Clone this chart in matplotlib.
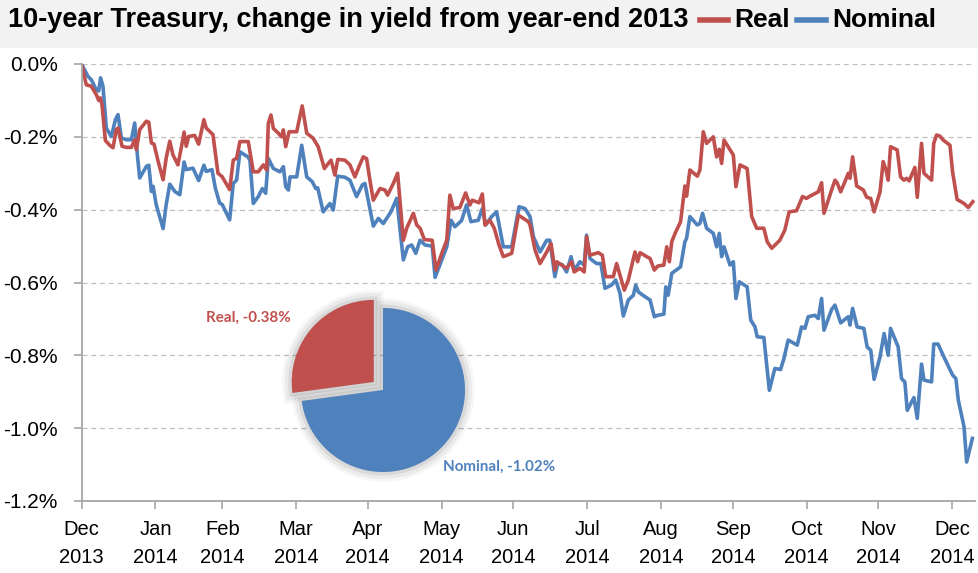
import matplotlib
matplotlib.use('Agg')
import matplotlib.pyplot as plt
import matplotlib.patheffects as pe
from matplotlib.patches import Rectangle
from matplotlib.lines import Line2D

# x = days since year-end 2013, y = change in 10-year yield (percentage points)
real_days = [0, 2.0, 4.1, 6.2, 7.2, 7.9, 8.6, 10.0, 11.8, 13.2, 14.6, 15.3, 17.0, 18.8, 20.9,
             22.3, 23.0, 24.4, 27.2, 28.2, 29.3, 30.4, 32.1, 34.2, 35.5, 37.0, 38.3, 40.4, 41.8,
             43.0, 43.9, 44.9, 47.4, 49.1, 51.3, 52.3, 55.1, 57.2, 58.9, 62.1, 63.6, 65.0, 66.4,
             69.9, 72.0, 74.1, 76.2, 77.6, 78.3, 79.4, 80.4, 82.5, 83.9, 84.6, 85.6, 87.0, 90.2,
             92.5, 94.4, 97.1, 99.2, 101.8, 103.7, 104.6, 106.2, 107.4, 110.4, 112.5, 114.6,
             116.3, 118.1, 119.5, 120.9, 122.3, 125.1, 127.2, 128.3, 130.7, 132.5, 134.9, 136.3,
             139.1, 140.5, 141.9, 143.7, 147.0, 148.6, 151.0, 153.1, 154.4, 155.8, 158.6, 161.0,
             162.8, 163.8, 166.6, 168.0, 169.1, 171.2, 173.0, 175.0, 176.8, 180.3, 183.1, 187.3,
             188.0, 190.1, 192.2, 195.0, 196.8, 198.4, 199.2, 201.2, 203.3, 205.4, 206.5, 208.9,
             210.7, 211.7, 213.1, 216.6, 218.3, 219.7, 222.9, 224.3, 225.7, 227.5, 229.2, 232.0,
             233.1, 234.1, 236.9, 238.3, 240.1, 241.5, 244.1, 245.3, 246.4, 247.4, 248.8, 251.1,
             252.9, 253.6, 255.0, 258.1, 259.2, 260.6, 262.0, 264.8, 266.2, 267.3, 268.3, 269.3,
             273.2, 274.3, 276.0, 279.0, 280.9, 283.0, 286.0, 287.4, 289.3, 292.7, 294.8, 296.6,
             299.7, 302.2, 303.9, 305.3, 308.8, 310.2, 311.2, 313.0, 314.4, 315.8, 316.7, 318.2,
             320.0, 321.4, 322.1, 323.2, 324.9, 327.7, 329.1, 330.8, 332.2, 334.7, 336.0, 337.2,
             338.1, 339.1, 341.9, 343.3, 344.7, 345.8, 346.9, 349.3, 350.3, 352.1, 353.1, 356.3,
             357.2, 358.4, 359.8, 361.2, 364.0, 365.1, 367.0, 369.9, 371.7, 373.6]
real_chg = [0.0, -0.057, -0.061, -0.084, -0.100, -0.093, -0.112, -0.210, -0.223, -0.230, -0.180,
            -0.176, -0.226, -0.229, -0.229, -0.208, -0.235, -0.180, -0.157, -0.160, -0.217,
            -0.220, -0.267, -0.318, -0.258, -0.212, -0.249, -0.277, -0.231, -0.187, -0.226,
            -0.199, -0.196, -0.220, -0.153, -0.176, -0.194, -0.300, -0.309, -0.345, -0.264,
            -0.259, -0.213, -0.213, -0.296, -0.296, -0.277, -0.291, -0.163, -0.140, -0.177,
            -0.190, -0.200, -0.181, -0.227, -0.186, -0.186, -0.115, -0.190, -0.204, -0.227,
            -0.287, -0.271, -0.264, -0.305, -0.262, -0.264, -0.277, -0.310, -0.282, -0.255,
            -0.260, -0.319, -0.374, -0.342, -0.346, -0.360, -0.328, -0.300, -0.484, -0.451,
            -0.410, -0.442, -0.451, -0.482, -0.484, -0.566, -0.520, -0.484, -0.360, -0.397,
            -0.394, -0.354, -0.387, -0.374, -0.381, -0.357, -0.442, -0.429, -0.451, -0.497,
            -0.529, -0.520, -0.415, -0.433, -0.442, -0.511, -0.548, -0.516, -0.493, -0.566,
            -0.543, -0.552, -0.561, -0.543, -0.571, -0.561, -0.571, -0.474, -0.525, -0.518,
            -0.525, -0.584, -0.584, -0.548, -0.580, -0.621, -0.593, -0.516, -0.543, -0.518,
            -0.529, -0.534, -0.566, -0.555, -0.552, -0.502, -0.543, -0.488, -0.465, -0.433,
            -0.335, -0.363, -0.291, -0.308, -0.291, -0.186, -0.218, -0.200, -0.255, -0.234,
            -0.273, -0.209, -0.250, -0.337, -0.277, -0.287, -0.419, -0.451, -0.451, -0.488,
            -0.506, -0.484, -0.456, -0.406, -0.403, -0.364, -0.369, -0.363, -0.351, -0.326,
            -0.410, -0.374, -0.346, -0.319, -0.326, -0.351, -0.323, -0.300, -0.314, -0.255,
            -0.335, -0.346, -0.366, -0.369, -0.406, -0.351, -0.268, -0.291, -0.319, -0.227,
            -0.236, -0.310, -0.319, -0.314, -0.321, -0.284, -0.366, -0.218, -0.300, -0.319,
            -0.218, -0.195, -0.198, -0.209, -0.223, -0.296, -0.372, -0.383, -0.394, -0.378]

nominal_days = [0, 2.7, 4.1, 6.2, 7.2, 8.0, 9.0, 10.4, 12.5, 14.2, 15.3, 16.7, 18.8, 20.9, 22.3,
                23.4, 24.4, 27.2, 28.2, 29.3, 30.0, 31.3, 34.2, 35.5, 37.0, 39.1, 41.2, 43.0,
                43.9, 46.7, 49.1, 51.3, 52.3, 54.7, 56.1, 57.9, 59.0, 62.1, 63.6, 65.0, 66.4,
                69.7, 70.6, 72.0, 74.1, 75.8, 77.2, 78.3, 80.4, 83.2, 84.6, 85.6, 86.7, 87.4,
                90.2, 92.3, 94.4, 96.7, 98.2, 99.0, 101.3, 104.1, 105.5, 107.4, 110.4, 112.5,
                115.3, 117.7, 118.8, 122.3, 124.4, 126.5, 129.7, 132.1, 134.9, 136.7, 138.4,
                140.1, 141.9, 144.0, 147.0, 148.2, 151.0, 153.1, 154.9, 156.5, 159.3, 161.4,
                163.2, 166.3, 168.0, 169.4, 171.9, 174.0, 176.8, 180.3, 183.4, 185.9, 188.0,
                189.4, 192.2, 195.0, 196.3, 198.4, 199.6, 201.5, 203.3, 205.2, 206.5, 208.9,
                210.7, 211.7, 213.1, 215.9, 217.7, 219.4, 222.2, 223.9, 225.7, 227.1, 229.2,
                231.3, 232.3, 233.4, 236.2, 238.3, 240.1, 241.5, 244.1, 244.9, 245.9, 247.4,
                248.8, 251.1, 252.9, 253.6, 255.0, 258.1, 259.2, 260.3, 262.0, 264.8, 266.2,
                267.3, 268.3, 269.3, 271.8, 273.2, 274.3, 275.7, 279.0, 280.5, 282.3, 283.2,
                286.0, 288.3, 290.6, 293.0, 294.4, 296.2, 300.0, 301.8, 303.2, 304.6, 307.4,
                308.8, 310.2, 311.2, 313.0, 314.4, 315.8, 318.2, 320.4, 321.4, 322.1, 323.2,
                325.1, 327.9, 329.3, 330.8, 332.2, 334.7, 336.4, 338.1, 339.1, 342.3, 343.7,
                345.1, 346.1, 348.9, 350.3, 352.1, 353.1, 356.3, 357.2, 359.0, 361.8, 365.1,
                366.5, 367.5, 369.9, 371.0, 373.4]
nominal_chg = [0.0, -0.034, -0.043, -0.071, -0.074, -0.038, -0.061, -0.176, -0.199, -0.153,
               -0.139, -0.203, -0.208, -0.208, -0.162, -0.249, -0.313, -0.281, -0.278, -0.350,
               -0.336, -0.386, -0.452, -0.386, -0.330, -0.350, -0.359, -0.269, -0.290, -0.286,
               -0.320, -0.278, -0.295, -0.290, -0.341, -0.382, -0.386, -0.428, -0.328, -0.319,
               -0.241, -0.255, -0.264, -0.383, -0.364, -0.342, -0.355, -0.259, -0.287, -0.296,
               -0.282, -0.337, -0.346, -0.310, -0.310, -0.223, -0.310, -0.323, -0.342, -0.340,
               -0.406, -0.383, -0.401, -0.308, -0.311, -0.319, -0.364, -0.332, -0.328, -0.445,
               -0.424, -0.438, -0.406, -0.369, -0.538, -0.502, -0.497, -0.520, -0.484, -0.497,
               -0.500, -0.586, -0.538, -0.502, -0.429, -0.447, -0.430, -0.387, -0.433, -0.429,
               -0.397, -0.442, -0.419, -0.406, -0.502, -0.502, -0.392, -0.397, -0.419, -0.474,
               -0.516, -0.484, -0.484, -0.584, -0.548, -0.551, -0.571, -0.529, -0.566, -0.543,
               -0.552, -0.470, -0.534, -0.548, -0.548, -0.616, -0.607, -0.593, -0.630, -0.692,
               -0.648, -0.635, -0.607, -0.626, -0.639, -0.648, -0.694, -0.690, -0.687, -0.612,
               -0.635, -0.575, -0.568, -0.557, -0.488, -0.479, -0.419, -0.442, -0.438, -0.410,
               -0.451, -0.465, -0.502, -0.465, -0.529, -0.502, -0.552, -0.543, -0.644, -0.598,
               -0.612, -0.703, -0.722, -0.749, -0.751, -0.896, -0.836, -0.839, -0.809, -0.758,
               -0.772, -0.722, -0.726, -0.694, -0.690, -0.699, -0.644, -0.731, -0.699, -0.674,
               -0.662, -0.711, -0.699, -0.694, -0.717, -0.671, -0.722, -0.726, -0.777, -0.786,
               -0.866, -0.804, -0.740, -0.800, -0.726, -0.777, -0.864, -0.873, -0.951, -0.916,
               -0.973, -0.824, -0.868, -0.873, -0.769, -0.769, -0.809, -0.854, -0.864, -0.923,
               -0.996, -1.093, -1.028]

month_end_days = [0, 31, 59, 90, 120, 151, 181, 212, 243, 273, 304, 334, 365]
month_labels = ['Dec\n2013', 'Jan\n2014', 'Feb\n2014', 'Mar\n2014', 'Apr\n2014', 'May\n2014',
                'Jun\n2014', 'Jul\n2014', 'Aug\n2014', 'Sep\n2014', 'Oct\n2014', 'Nov\n2014',
                'Dec\n2014']
y_ticks = [0, -0.2, -0.4, -0.6, -0.8, -1.0, -1.2]

pie_names = ['Real', 'Nominal']
pie_values = [0.38, 1.02]

RED = '#c0504d'
BLUE = '#4f81bd'
GRID = '#bfbfbf'
AXIS = '#a6a6a6'
FONT = 'Liberation Sans'

W, H = 979, 573
fig = plt.figure(figsize=(W / 100, H / 100), dpi=100)
renderer = fig.canvas.get_renderer()


def size_for_width(text, target_px, **kw):
    # font size at which `text` spans target_px pixels
    t = fig.text(0, 0, text, fontsize=20, **kw)
    w = t.get_window_extent(renderer).width
    t.remove()
    return 20 * target_px / w


# grey title band
fig.patches.append(Rectangle((0, 1 - 47 / H), 1, 47 / H, transform=fig.transFigure,
                             color='#f2f2f2', zorder=0))
title = '10-year Treasury, change in yield from year-end 2013'
tfs = size_for_width(title, 681, family=FONT, fontweight='bold')
ty = 1 - 20 / H
fig.text(8 / W, ty, title, fontsize=tfs, fontweight='bold', family=FONT, va='center', ha='left')
fig.add_artist(Line2D([700 / W, 728 / W], [ty, ty], color=RED, lw=4))
fig.text(734 / W, ty, 'Real', fontsize=tfs * 0.97, fontweight='bold', family=FONT, va='center')
fig.add_artist(Line2D([797 / W, 826 / W], [ty, ty], color=BLUE, lw=4))
fig.text(832 / W, ty, 'Nominal', fontsize=tfs * 0.97, fontweight='bold', family=FONT, va='center')

ax = fig.add_axes([81.5 / W, 1 - 501 / H, (975 - 81.5) / W, 437 / H])
ax.plot(nominal_days, nominal_chg, color=BLUE, lw=2.6, solid_joinstyle='round')
ax.plot(real_days, real_chg, color=RED, lw=2.6, solid_joinstyle='round')
ax.set_xlim(0, 374.5)
ax.set_ylim(-1.2, 0)
ax.set_yticks(y_ticks)
ax.set_yticklabels([f'{v:.1f}%' for v in y_ticks], fontsize=15, family=FONT)
xfs = size_for_width('2014', 45, family=FONT)
ax.set_xticks(month_end_days)
ax.set_xticklabels(month_labels, fontsize=xfs, family=FONT, linespacing=1.55)
ax.yaxis.grid(True, color=GRID, linestyle=(0, (4, 3)), lw=0.9)
ax.set_axisbelow(True)
for s in ['top', 'right']:
    ax.spines[s].set_visible(False)
for s in ['left', 'bottom']:
    ax.spines[s].set_color(AXIS)
    ax.spines[s].set_linewidth(1.3)
ax.tick_params(axis='y', length=6, width=1.2, color=AXIS, pad=11)
ax.tick_params(axis='x', length=6, width=1.2, color=AXIS, pad=8)

# pie inset
cx, cy, half, r = 383, 390, 110, 82
pax = fig.add_axes([(cx - half) / W, 1 - (cy + half) / H, 2 * half / W, 2 * half / H])
wedges, _ = pax.pie(pie_values, colors=[RED, BLUE], startangle=90, counterclock=True,
                    explode=[0.15, 0], wedgeprops=dict(lw=0))
for w in wedges:
    w.set_path_effects([pe.Stroke(linewidth=14, foreground='k', alpha=0.03),
                        pe.Stroke(linewidth=10, foreground='k', alpha=0.05),
                        pe.Stroke(linewidth=5, foreground='k', alpha=0.07),
                        pe.Normal()])
lim = half / r
pax.set_xlim(-lim, lim)
pax.set_ylim(-lim, lim)
pax.axis('off')

pfs = size_for_width('Real, -0.38%', 85, family='Lato', fontweight='bold')
fig.text(248 / W, 1 - 318 / H, f'{pie_names[0]}, -{pie_values[0]:.2f}%', color=RED,
         fontsize=pfs, fontweight='bold', family='Lato', ha='center', va='center')
fig.text(499 / W, 1 - 467 / H, f'{pie_names[1]}, -{pie_values[1]:.2f}%', color=BLUE,
         fontsize=pfs, fontweight='bold', family='Lato', ha='center', va='center')

fig.savefig('out.png', dpi=100)
